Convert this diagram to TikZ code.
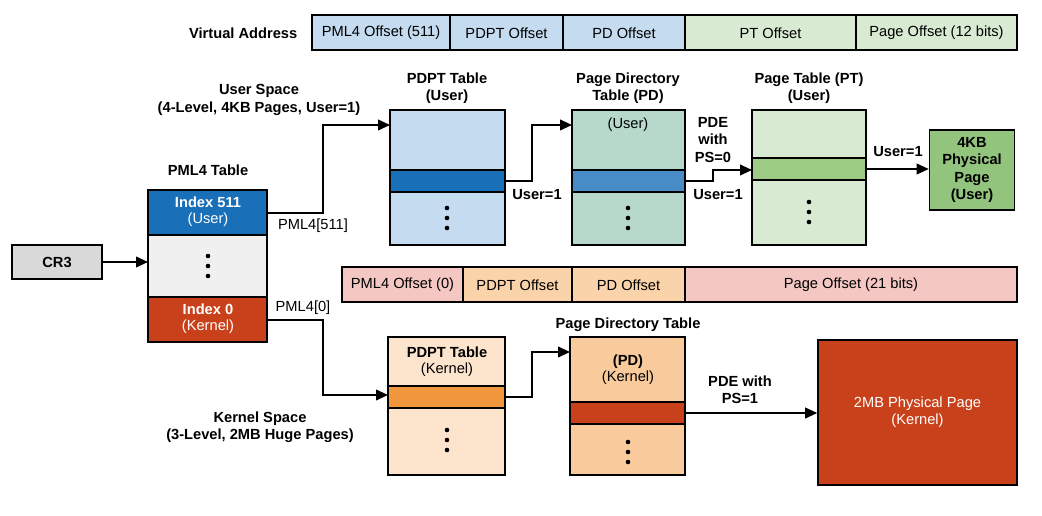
\documentclass[tikz,border=0pt]{standalone}
\usepackage{fontspec}
\setmainfont{Liberation Sans}
\usetikzlibrary{arrows.meta}
\definecolor{ublue}{HTML}{C5DBEF}
\definecolor{dblue}{HTML}{1A6FB9}
\definecolor{ugreen}{HTML}{D9EAD3}
\definecolor{mgreen}{HTML}{9CCC84}
\definecolor{pgreen}{HTML}{93C47D}
\definecolor{teal}{HTML}{B7D9CC}
\definecolor{kred}{HTML}{C9411A}
\definecolor{kpink}{HTML}{F4C7C3}
\definecolor{korange}{HTML}{FAD3AB}
\definecolor{klight}{HTML}{FDE4CC}
\definecolor{kmid}{HTML}{F9CB9C}
\definecolor{kband}{HTML}{F0963C}
\definecolor{lgrey}{HTML}{F0F0F0}
\definecolor{cgrey}{HTML}{D9D9D9}
\begin{document}
\begin{tikzpicture}[x=0.75pt,y=-0.75pt,
  box/.style={draw=black,line width=1.2pt},
  lbl/.style={font=\fontsize{11}{13}\selectfont\bfseries,align=center},
  txt/.style={font=\fontsize{11}{13}\selectfont,align=center},
  arr/.style={-{Triangle[length=9pt,width=8pt]},line width=1.4pt},
  dots/.pic={\fill (0,-10) circle (2.3) (0,0) circle (2.3) (0,10) circle (2.3);}]
\useasboundingbox (0,0) rectangle (1042,516);
% virtual address
\node[lbl,anchor=east] (va) at (302,33) {Virtual Address};
\foreach \a/\b/\c/\t/\n in {312/450/ublue/PML4 Offset (511)/v1,450/563/ublue/PDPT Offset/v2,563/685/ublue/PD Offset/v3,685/856/ugreen/PT Offset/v4,856/1017/ugreen/Page Offset (12 bits)/v5}
  {\draw[box,fill=\c] (\a,15) rectangle (\b,50); \node[txt] (\n) at ({(\a+\b)/2},33) {\t};}
% kernel address
\foreach \a/\b/\c/\t/\n in {342/463/kpink/PML4 Offset (0)/k1,463/572/korange/PDPT Offset/k2,572/685/korange/PD Offset/k3,685/1017/kpink/Page Offset (21 bits)/k4}
  {\draw[box,fill=\c] (\a,267) rectangle (\b,302); \node[txt] (\n) at ({(\a+\b)/2},285) {\t};}
% labels
\node[lbl] (us) at (259,100) {User Space\\(4-Level, 4KB Pages, User=1)};
\node[lbl] (ks) at (260,427) {Kernel Space\\(3-Level, 2MB Huge Pages)};
\node[lbl] (pml4l) at (208,170) {PML4 Table};
% CR3
\node[box,fill=cgrey,minimum width=90*0.75pt,minimum height=34*0.75pt,lbl] (cr3) at (57,262) {CR3};
% PML4
\draw[box,fill=dblue] (148,190) rectangle (267,235);
\draw[box,fill=lgrey] (148,235) rectangle (267,297);
\draw[box,fill=kred] (148,297) rectangle (267,342);
\node[lbl,text=white] (i511) at (208,212) {Index 511\\[-1pt]\mdseries(User)};
\node[lbl,text=white] (i0) at (208,319) {Index 0\\[-1pt]\mdseries(Kernel)};
\pic at (208,266) {dots};
\coordinate (pmlin) at (148,262);
\draw[arr] (cr3) -- (pmlin);
% PDPT user
\draw[box,fill=ublue] (390,110) rectangle (505,245);
\draw[box,fill=dblue] (390,170) rectangle (505,192);
\pic at (447,218) {dots};
\node[lbl] (pdptul) at (447,88) {PDPT Table\\(User)};
% PD user
\draw[box,fill=teal] (572,110) rectangle (685,245);
\draw[box,fill=dblue!80!white] (572,170) rectangle (685,192);
\node[txt] (pduin) at (628,125) {(User)};
\pic at (628,218) {dots};
\node[lbl] (pdul) at (628,88) {Page Directory\\Table (PD)};
% PT user
\draw[box,fill=ugreen] (752,110) rectangle (866,245);
\draw[box,fill=mgreen] (752,158) rectangle (866,180);
\pic at (809,212) {dots};
\node[lbl] (ptul) at (809,88) {Page Table (PT)\\(User)};
% 4KB page
\node[box,fill=pgreen,minimum width=85*0.75pt,minimum height=80*0.75pt,lbl,inner sep=1pt] (p4k) at (972,170) {4KB\\Physical\\Page\\(User)};
% user arrows
\coordinate (a1) at (267,213); \coordinate (pdptuin) at (390,125);
\draw[arr] (a1) -- (323,213) -- (323,125) -- (pdptuin);
\node[txt] (l511) at (313,226) {PML4[511]};
\coordinate (a2) at (505,181); \coordinate (pduinp) at (572,125);
\draw[arr] (a2) -- (532,181) -- (532,125) -- (pduinp);
\node[lbl] (lu1) at (537,195) {User=1};
\coordinate (a3) at (685,181); \coordinate (ptin) at (752,170);
\draw[arr] (a3) -- (713,181) -- (713,170) -- (ptin);
\node[lbl] (pde0) at (713,140) {PDE\\with\\PS=0};
\node[lbl] (lu2) at (718,195) {User=1};
\coordinate (a4) at (866,169);
\draw[arr] (a4) -- (p4k.west|-a4);
\node[lbl] (lu3) at (898,152) {User=1};
% PDPT kernel
\draw[box,fill=klight] (388,337) rectangle (505,475);
\draw[box,fill=kband] (388,386) rectangle (505,408);
\node[lbl] (pdptk) at (447,362) {PDPT Table\\[-1pt]\mdseries(Kernel)};
\pic at (447,440) {dots};
% PD kernel
\draw[box,fill=kmid] (570,337) rectangle (685,475);
\draw[box,fill=kred] (570,402) rectangle (685,424);
\node[lbl] (pdk) at (628,370) {(PD)\\[-1pt]\mdseries(Kernel)};
\node[lbl] (pdkl) at (628,325) {Page Directory Table};
\pic at (628,452) {dots};
% 2MB
\node[box,fill=kred,minimum width=199*0.75pt,minimum height=145*0.75pt,txt,text=white] (p2m) at (917.5,412.5) {2MB Physical Page\\(Kernel)};
% kernel arrows
\coordinate (b1) at (267,320); \coordinate (pdptkin) at (388,395);
\draw[arr] (b1) -- (323,320) -- (323,395) -- (pdptkin);
\node[txt] (l0) at (303,308) {PML4[0]};
\coordinate (b2) at (505,397); \coordinate (pdkin) at (570,352);
\draw[arr] (b2) -- (532,397) -- (532,352) -- (pdkin);
\coordinate (b3) at (685,413);
\draw[arr] (b3) -- (p2m.west|-b3);
\node[lbl] (pde1) at (740,390) {PDE with\\PS=1};
\end{tikzpicture}
\end{document}
